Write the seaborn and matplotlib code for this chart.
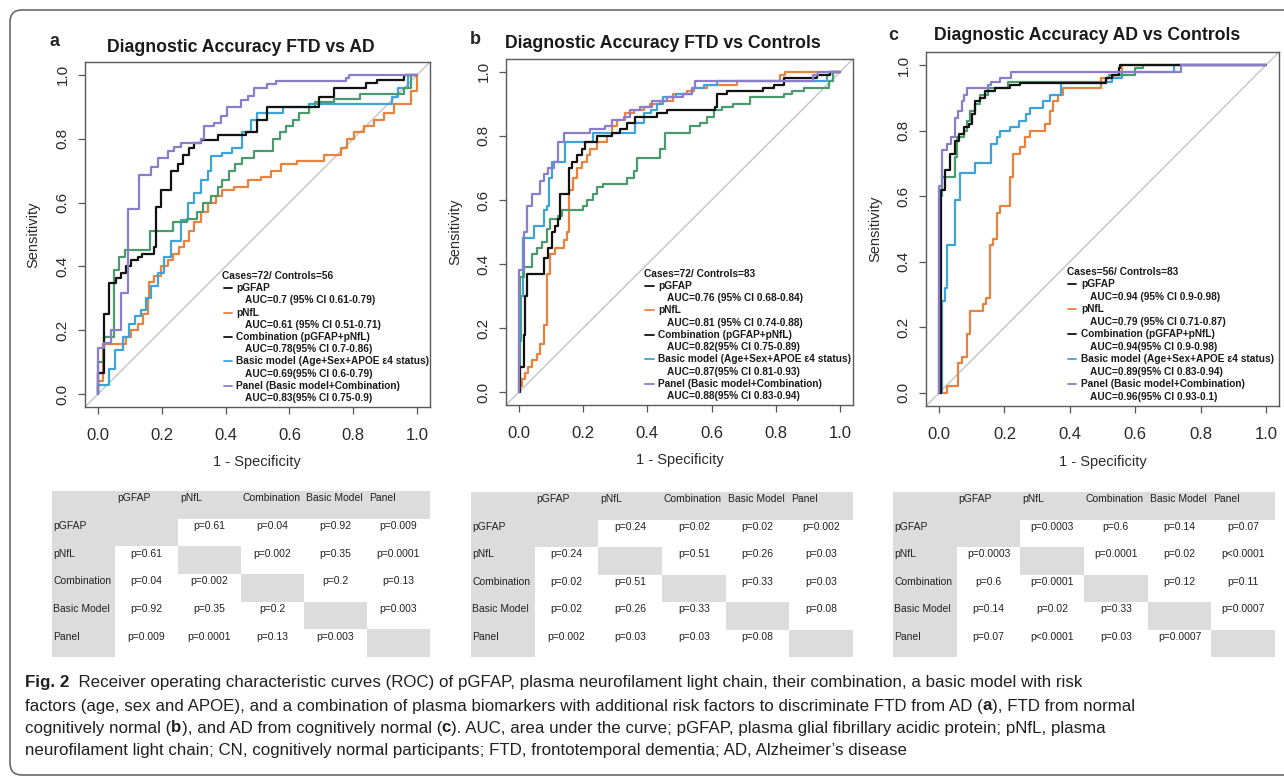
import numpy as np
import pandas as pd
import matplotlib
matplotlib.use('Agg')
import matplotlib.pyplot as plt
from matplotlib import font_manager
from matplotlib.colors import ListedColormap
from matplotlib.patches import FancyBboxPatch
import seaborn as sns

# ---- data: (1 - specificity, sensitivity) step corners ----
models = ['pGFAP', 'pNfL', 'Combination', 'Basic model', 'Panel']

a_pgfap = [(0, 0), (0, 0.10), (0.02, 0.18), (0.05, 0.39), (0.065, 0.43), (0.085, 0.45), (0.165, 0.51),
           (0.234, 0.54), (0.28, 0.55), (0.31, 0.57), (0.33, 0.60), (0.355, 0.62), (0.375, 0.65),
           (0.39, 0.67), (0.41, 0.70), (0.43, 0.72), (0.45, 0.74), (0.49, 0.76), (0.55, 0.80),
           (0.57, 0.82), (0.59, 0.84), (0.61, 0.86), (0.63, 0.88), (0.66, 0.90), (0.68, 0.915),
           (0.74, 0.925), (0.82, 0.94), (0.96, 0.96), (0.98, 1.0), (1.0, 1.0)]
a_pnfl = [(0, 0), (0, 0.04), (0.016, 0.156), (0.089, 0.18), (0.104, 0.20), (0.125, 0.22), (0.141, 0.25),
          (0.156, 0.30), (0.161, 0.35), (0.177, 0.37), (0.198, 0.40), (0.219, 0.42), (0.234, 0.44),
          (0.255, 0.46), (0.271, 0.48), (0.286, 0.51), (0.302, 0.54), (0.323, 0.57), (0.344, 0.60),
          (0.37, 0.62), (0.39, 0.64), (0.427, 0.65), (0.469, 0.67), (0.51, 0.68), (0.542, 0.70),
          (0.573, 0.72), (0.625, 0.73), (0.708, 0.75), (0.76, 0.77), (0.781, 0.80), (0.802, 0.82),
          (0.833, 0.84), (0.865, 0.86), (0.896, 0.88), (0.927, 0.91), (0.979, 0.95), (1.0, 1.0)]
a_comb = [(0, 0), (0.002, 0.067), (0.019, 0.25), (0.036, 0.348), (0.057, 0.363), (0.073, 0.379),
          (0.089, 0.40), (0.104, 0.42), (0.125, 0.43), (0.14, 0.44), (0.175, 0.46), (0.182, 0.585),
          (0.198, 0.64), (0.229, 0.70), (0.25, 0.72), (0.266, 0.75), (0.286, 0.77), (0.302, 0.785),
          (0.323, 0.795), (0.375, 0.81), (0.464, 0.82), (0.5, 0.86), (0.531, 0.90), (0.693, 0.93),
          (0.74, 0.96), (0.839, 0.975), (0.875, 0.985), (0.958, 1.0), (1.0, 1.0)]
a_basic = [(0, 0), (0, 0.03), (0.036, 0.08), (0.055, 0.14), (0.078, 0.18), (0.099, 0.22), (0.115, 0.245),
           (0.135, 0.265), (0.151, 0.30), (0.167, 0.34), (0.188, 0.38), (0.208, 0.43), (0.229, 0.48),
           (0.26, 0.545), (0.281, 0.60), (0.302, 0.63), (0.323, 0.67), (0.344, 0.70), (0.354, 0.745),
           (0.39, 0.755), (0.42, 0.77), (0.45, 0.82), (0.48, 0.86), (0.5, 0.88), (0.58, 0.90),
           (0.66, 0.91), (0.92, 0.93), (0.94, 0.96), (0.97, 1.0), (1.0, 1.0)]
a_panel = [(0, 0), (0, 0.145), (0.021, 0.16), (0.042, 0.20), (0.073, 0.317), (0.094, 0.58), (0.13, 0.685),
           (0.167, 0.71), (0.1875, 0.74), (0.219, 0.76), (0.24, 0.775), (0.26, 0.785), (0.323, 0.80),
           (0.333, 0.84), (0.365, 0.85), (0.385, 0.87), (0.406, 0.90), (0.448, 0.92), (0.469, 0.935),
           (0.49, 0.96), (0.531, 0.97), (0.557, 0.98), (0.776, 0.99), (0.786, 1.0), (1.0, 1.0)]

b_pgfap = [(0, 0), (0.004, 0.36), (0.015, 0.39), (0.04, 0.43), (0.056, 0.45), (0.072, 0.47), (0.087, 0.51),
           (0.098, 0.54), (0.123, 0.55), (0.134, 0.57), (0.201, 0.58), (0.212, 0.60), (0.232, 0.62),
           (0.243, 0.64), (0.263, 0.65), (0.336, 0.67), (0.357, 0.69), (0.367, 0.73), (0.44, 0.76),
           (0.455, 0.81), (0.533, 0.83), (0.564, 0.84), (0.585, 0.86), (0.606, 0.88), (0.632, 0.89),
           (0.668, 0.90), (0.72, 0.92), (0.824, 0.93), (0.85, 0.94), (0.886, 0.95), (0.964, 0.97),
           (0.979, 1.0), (1.0, 1.0)]
b_pnfl = [(0, 0), (0, 0.02), (0.01, 0.04), (0.02, 0.06), (0.03, 0.08), (0.04, 0.10), (0.056, 0.12),
          (0.066, 0.15), (0.077, 0.21), (0.087, 0.37), (0.098, 0.43), (0.113, 0.45), (0.139, 0.475),
          (0.149, 0.50), (0.155, 0.63), (0.17, 0.67), (0.18, 0.70), (0.196, 0.72), (0.212, 0.74),
          (0.222, 0.76), (0.243, 0.78), (0.274, 0.80), (0.289, 0.83), (0.305, 0.85), (0.331, 0.87),
          (0.357, 0.88), (0.388, 0.89), (0.409, 0.90), (0.44, 0.91), (0.481, 0.93), (0.523, 0.94),
          (0.544, 0.95), (0.585, 0.96), (0.678, 0.97), (0.813, 0.99), (0.829, 1.0), (1.0, 1.0)]
b_comb = [(0, 0), (0.004, 0.08), (0.015, 0.18), (0.02, 0.30), (0.025, 0.37), (0.077, 0.42), (0.092, 0.45),
          (0.103, 0.50), (0.113, 0.52), (0.123, 0.54), (0.129, 0.62), (0.155, 0.70), (0.165, 0.72),
          (0.18, 0.74), (0.196, 0.76), (0.206, 0.78), (0.243, 0.80), (0.289, 0.81), (0.315, 0.82),
          (0.336, 0.84), (0.362, 0.86), (0.43, 0.87), (0.46, 0.88), (0.611, 0.89), (0.616, 0.93),
          (0.647, 0.94), (0.761, 0.95), (0.793, 0.96), (0.824, 0.98), (0.927, 0.99), (0.969, 1.0),
          (1.0, 1.0)]
b_basic = [(0, 0), (0, 0.16), (0.008, 0.30), (0.012, 0.48), (0.046, 0.52), (0.077, 0.57), (0.088, 0.58),
           (0.095, 0.67), (0.104, 0.72), (0.143, 0.78), (0.232, 0.81), (0.36, 0.84), (0.388, 0.87),
           (0.41, 0.88), (0.43, 0.90), (0.45, 0.92), (0.49, 0.93), (0.54, 0.95), (0.575, 0.96),
           (0.616, 0.97), (0.96, 0.99), (0.968, 1.0), (1.0, 1.0)]
b_panel = [(0, 0), (0, 0.38), (0.015, 0.50), (0.025, 0.58), (0.04, 0.62), (0.066, 0.66), (0.077, 0.68),
           (0.092, 0.70), (0.108, 0.72), (0.123, 0.78), (0.139, 0.81), (0.222, 0.82), (0.269, 0.83),
           (0.289, 0.85), (0.326, 0.86), (0.346, 0.88), (0.378, 0.89), (0.414, 0.91), (0.46, 0.92),
           (0.512, 0.93), (0.538, 0.95), (0.549, 0.97), (0.917, 0.99), (0.932, 1.0), (1.0, 1.0)]

c_pgfap = [(0, 0), (0, 0.60), (0.008, 0.66), (0.05, 0.72), (0.055, 0.78), (0.075, 0.80), (0.085, 0.83),
           (0.095, 0.86), (0.11, 0.88), (0.125, 0.91), (0.15, 0.93), (0.21, 0.95), (0.51, 0.96),
           (0.52, 0.97), (0.6, 0.99), (0.625, 1.0), (1.0, 1.0)]
c_pnfl = [(0, 0), (0.023, 0.02), (0.059, 0.09), (0.069, 0.11), (0.084, 0.18), (0.094, 0.25), (0.135, 0.27),
          (0.145, 0.29), (0.155, 0.45), (0.165, 0.47), (0.176, 0.55), (0.186, 0.57), (0.216, 0.66),
          (0.226, 0.73), (0.247, 0.75), (0.262, 0.78), (0.277, 0.80), (0.323, 0.82), (0.338, 0.86),
          (0.348, 0.89), (0.363, 0.91), (0.379, 0.93), (0.495, 0.96), (0.531, 0.97), (0.561, 1.0),
          (1.0, 1.0)]
c_comb = [(0, 0), (0.006, 0.57), (0.006, 0.62), (0.018, 0.68), (0.034, 0.73), (0.049, 0.77), (0.061, 0.79),
          (0.076, 0.81), (0.093, 0.82), (0.10, 0.85), (0.109, 0.89), (0.125, 0.90), (0.14, 0.92),
          (0.17, 0.93), (0.216, 0.94), (0.247, 0.945), (0.51, 0.96), (0.53, 0.97), (0.55, 0.99),
          (0.555, 1.0), (1.0, 1.0)]
c_basic = [(0, 0), (0.008, 0.28), (0.018, 0.32), (0.024, 0.45), (0.049, 0.59), (0.064, 0.67), (0.11, 0.70),
           (0.16, 0.76), (0.176, 0.78), (0.186, 0.80), (0.216, 0.81), (0.246, 0.83), (0.265, 0.85),
           (0.277, 0.87), (0.318, 0.89), (0.338, 0.91), (0.373, 0.945), (0.5, 0.95), (0.53, 0.96),
           (0.56, 0.98), (0.72, 1.0), (1.0, 1.0)]
c_panel = [(0, 0), (0, 0.63), (0.008, 0.74), (0.023, 0.76), (0.036, 0.78), (0.049, 0.84), (0.059, 0.86),
           (0.069, 0.89), (0.076, 0.91), (0.086, 0.93), (0.15, 0.94), (0.16, 0.95), (0.186, 0.96),
           (0.221, 0.98), (0.739, 1.0), (1.0, 1.0)]

titles = ['Diagnostic Accuracy FTD vs AD', 'Diagnostic Accuracy FTD vs Controls',
          'Diagnostic Accuracy AD vs Controls']
cases = ['Cases=72/ Controls=56', 'Cases=72/ Controls=83', 'Cases=56/ Controls=83']
legend_names = ['pGFAP', 'pNfL', 'Combination (pGFAP+pNfL)',
                'Basic model (Age+Sex+APOE \u03b54 status)', 'Panel (Basic model+Combination)']
a_auc = ['AUC=0.7 (95% CI 0.61-0.79)', 'AUC=0.61 (95% CI 0.51-0.71)', 'AUC=0.78(95% CI 0.7-0.86)',
         'AUC=0.69(95% CI 0.6-0.79)', 'AUC=0.83(95% CI 0.75-0.9)']
b_auc = ['AUC=0.76 (95% CI 0.68-0.84)', 'AUC=0.81 (95% CI 0.74-0.88)', 'AUC=0.82(95% CI 0.75-0.89)',
         'AUC=0.87(95% CI 0.81-0.93)', 'AUC=0.88(95% CI 0.83-0.94)']
c_auc = ['AUC=0.94 (95% CI 0.9-0.98)', 'AUC=0.79 (95% CI 0.71-0.87)', 'AUC=0.94(95% CI 0.9-0.98)',
         'AUC=0.89(95% CI 0.83-0.94)', 'AUC=0.96(95% CI 0.93-0.1)']
tick_values = [0.0, 0.2, 0.4, 0.6, 0.8, 1.0]
tick_labels = ['0.0', '0.2', '0.4', '0.6', '0.8', '1.0']

# pairwise p-value tables
table_cols = ['pGFAP', 'pNfL', 'Combination', 'Basic Model', 'Panel']
a_pvals = [['', 'p=0.61', 'p=0.04', 'p=0.92', 'p=0.009'],
           ['p=0.61', '', 'p=0.002', 'p=0.35', 'p=0.0001'],
           ['p=0.04', 'p=0.002', '', 'p=0.2', 'p=0.13'],
           ['p=0.92', 'p=0.35', 'p=0.2', '', 'p=0.003'],
           ['p=0.009', 'p=0.0001', 'p=0.13', 'p=0.003', '']]
b_pvals = [['', 'p=0.24', 'p=0.02', 'p=0.02', 'p=0.002'],
           ['p=0.24', '', 'p=0.51', 'p=0.26', 'p=0.03'],
           ['p=0.02', 'p=0.51', '', 'p=0.33', 'p=0.03'],
           ['p=0.02', 'p=0.26', 'p=0.33', '', 'p=0.08'],
           ['p=0.002', 'p=0.03', 'p=0.03', 'p=0.08', '']]
c_pvals = [['', 'p=0.0003', 'p=0.6', 'p=0.14', 'p=0.07'],
           ['p=0.0003', '', 'p=0.0001', 'p=0.02', 'p<0.0001'],
           ['p=0.6', 'p=0.0001', '', 'p=0.12', 'p=0.11'],
           ['p=0.14', 'p=0.02', 'p=0.33', '', 'p=0.0007'],
           ['p=0.07', 'p<0.0001', 'p=0.03', 'p=0.0007', '']]

caption = [
    [('Fig. 2', 'bold'), ('  Receiver operating characteristic curves (ROC) of pGFAP, plasma neurofilament '
                          'light chain, their combination, a basic model with risk', 'normal')],
    [('factors (age, sex and APOE), and a combination of plasma biomarkers with additional risk factors '
      'to discriminate FTD from AD (', 'normal'), ('a', 'bold'), ('), FTD from normal', 'normal')],
    [('cognitively normal (', 'normal'), ('b', 'bold'), ('), and AD from cognitively normal (', 'normal'),
     ('c', 'bold'), ('). AUC, area under the curve; pGFAP, plasma glial fibrillary acidic protein; '
                     'pNfL, plasma', 'normal')],
    [('neurofilament light chain; CN, cognitively normal participants; FTD, frontotemporal dementia; '
      'AD, Alzheimer\u2019s disease', 'normal')],
]

# ---- styling ----
palette = {'pGFAP': '#4b9a6e', 'pNfL': '#e8823f', 'Combination': '#111111',
           'Basic model': '#3fa3d8', 'Panel': '#8b7dcc'}
legend_colors = ['#111111', '#e8823f', '#111111', '#3fa3d8', '#8b7dcc']
draw_order = ['pNfL', 'Basic model', 'pGFAP', 'Combination', 'Panel']

sns.set_style('ticks')
plt.rcParams['font.family'] = ['Liberation Sans', 'DejaVu Sans']

installed = {f.name for f in font_manager.fontManager.ttflist}
if 'Liberation Sans Narrow' in installed:
    cap_family, cap_size = ['Liberation Sans Narrow', 'DejaVu Sans'], 13.5
else:
    cap_family, cap_size = ['Liberation Sans', 'DejaVu Sans'], 12.2

W, H = 1284, 780
fig = plt.figure(figsize=(W / 100, H / 100), dpi=100)


def px_axes(left, top, right, bottom, **kw):
    return fig.add_axes([left / W, 1 - bottom / H, (right - left) / W, (bottom - top) / H], **kw)


bg = px_axes(0, 0, W, H, zorder=-5)
bg.set_xlim(0, W)
bg.set_ylim(H, 0)
bg.axis('off')
bg.add_patch(FancyBboxPatch((10, 10), 1320, 765, boxstyle='round,pad=0,rounding_size=12',
                            fc='none', ec='#6a6a6a', lw=1.2))

panels = [
    dict(curves=[a_pgfap, a_pnfl, a_comb, a_basic, a_panel], auc=a_auc, pvals=a_pvals,
         box=(85, 62, 430, 407), table=(52, 491, 430, 657), letter='a', letter_xy=(55, 42),
         title_xy=(241, 47), ylab_x=33, xlab_xy=(257, 462)),
    dict(curves=[b_pgfap, b_pnfl, b_comb, b_basic, b_panel], auc=b_auc, pvals=b_pvals,
         box=(506, 59, 853, 405), table=(471, 492, 853, 657), letter='b', letter_xy=(475, 40),
         title_xy=(663, 43), ylab_x=455, xlab_xy=(680, 460)),
    dict(curves=[c_pgfap, c_pnfl, c_comb, c_basic, c_panel], auc=c_auc, pvals=c_pvals,
         box=(926, 52, 1279, 406), table=(893, 492, 1275, 657), letter='c', letter_xy=(893, 35),
         title_xy=(1087, 35), ylab_x=875, xlab_xy=(1103, 462)),
]

for k, p in enumerate(panels):
    rows = []
    for name, pts in zip(models, p['curves']):
        for fpr, tpr in pts:
            rows.append({'model': name, 'fpr': fpr, 'tpr': tpr})
    df = pd.DataFrame(rows)

    ax = px_axes(*p['box'])
    ax.axline((0, 0), (1, 1), color='#c4c4c4', lw=1.0, zorder=0)
    sns.lineplot(data=df, x='fpr', y='tpr', hue='model', hue_order=draw_order, palette=palette,
                 estimator=None, sort=False, drawstyle='steps-post', lw=1.6, legend=False, ax=ax)
    ax.set_xlim(-0.04, 1.04)
    ax.set_ylim(-0.04, 1.04)
    ax.set_xticks(tick_values)
    ax.set_xticklabels(tick_labels, fontsize=12)
    ax.set_yticks(tick_values)
    ax.set_yticklabels(tick_labels, fontsize=11, rotation=90, va='center')
    ax.tick_params(length=5, width=0.9, color='#555555', labelcolor='#2a2a2a')
    ax.tick_params(axis='x', pad=10)
    ax.tick_params(axis='y', pad=6)
    ax.set_xlabel('')
    ax.set_ylabel('')
    for s in ax.spines.values():
        s.set_visible(True)
        s.set_color('#5a5a5a')
        s.set_linewidth(1.0)

    # legend written as text, like the R legend
    x0, y0, dy = 0.39, 0.37, 0.0382
    lkw = dict(fontsize=7.3, fontweight='bold', color='#1a1a1a', va='center', ha='left')
    ax.text(x0, y0, cases[k], **lkw)
    for i, (nm, auc) in enumerate(zip(legend_names, p['auc'])):
        yy = y0 - (2 * i + 1) * dy
        ax.plot([x0 + 0.004, x0 + 0.03], [yy, yy], color=legend_colors[i], lw=1.3)
        ax.text(x0 + 0.044, yy, nm, **lkw)
        ax.text(x0 + 0.072, yy - dy, auc, **lkw)

    # titles and labels in pixel space
    bg.text(*p['letter_xy'], p['letter'], fontsize=13, fontweight='bold', ha='center', va='center')
    bg.text(*p['title_xy'], titles[k], fontsize=12.7, fontweight='bold', ha='center', va='center',
            color='#1a1a1a')
    bg.text(p['ylab_x'], (p['box'][1] + p['box'][3]) / 2, 'Sensitivity', fontsize=10.5, rotation=90,
            ha='center', va='center', color='#2a2a2a')
    bg.text(*p['xlab_xy'], '1 - Specificity', fontsize=10.5, ha='center', va='center', color='#2a2a2a')

    # p-value table: grey header, row labels and diagonal
    mask = np.zeros((6, 6))
    mask[0, :] = 1
    mask[:, 0] = 1
    for i in range(1, 6):
        mask[i, i] = 1
    tax = px_axes(*p['table'])
    sns.heatmap(mask, ax=tax, cmap=ListedColormap(['white', '#dcdcdc']), vmin=0, vmax=1, cbar=False,
                xticklabels=False, yticklabels=False, linewidths=0)
    tkw = dict(fontsize=7.5, color='#222222', va='center')
    for j, col in enumerate(table_cols):
        tax.text(j + 1.03, 0.27, col, ha='left', **tkw)
    for i, row in enumerate(table_cols):
        tax.text(0.02, i + 1.27, row, ha='left', **tkw)
        for j, val in enumerate(p['pvals'][i]):
            if val:
                tax.text(j + 1.5, i + 1.27, val, ha='center', **tkw)

# caption, bold pieces chained after regular ones
cap_y = [683, 706, 728, 750]
for y, segs in zip(cap_y, caption):
    prev = None
    for txt, wt in segs:
        if prev is None:
            prev = bg.text(25, y, txt, fontsize=cap_size, fontweight=wt, family=cap_family,
                           color='#231f20', ha='left', va='center')
        else:
            prev = bg.annotate(txt, xy=(1, 0), xycoords=prev, fontsize=cap_size, fontweight=wt,
                               family=cap_family, color='#231f20', ha='left', va='bottom')

fig.savefig('out.png', dpi=100)
